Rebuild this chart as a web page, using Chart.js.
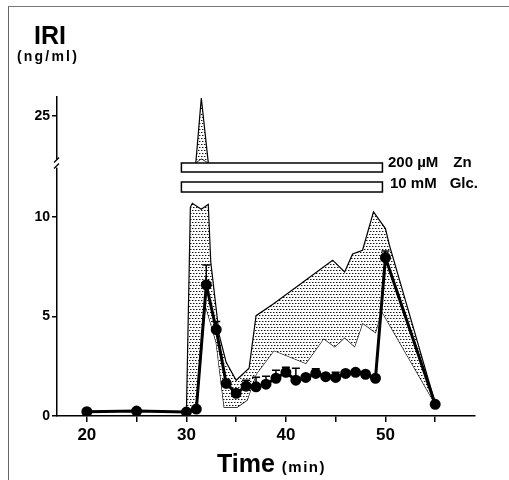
<!DOCTYPE html>
<html>
<head>
<meta charset="utf-8">
<script src="https://cdn.jsdelivr.net/npm/chart.js@4"></script>
<style>
  body { margin: 0; background: #fff; }
  #wrap { position: relative; width: 509px; height: 480px; font-family: "Liberation Sans", Arial, sans-serif; font-weight: bold; color: #000; }
  #frame { position: absolute; left: 8px; top: 6px; width: 520px; height: 500px; border-left: 1px solid #666; border-top: 1px solid #777; }
  .lbl { position: absolute; line-height: 1; white-space: nowrap; }
</style>
</head>
<body>
<div id="wrap">
  <div id="frame"></div>
  <canvas id="iriChart" width="509" height="480"></canvas>
  <div class="lbl" style="left:34px; top:23px; font-size:25px;">IRI</div>
  <div class="lbl" style="left:17px; top:49px; font-size:14px; letter-spacing:2.2px;">(ng/ml)</div>
  <div class="lbl" style="left:388px; top:154px; font-size:15px;">200 µM<span style="margin-left:15px">Zn</span></div>
  <div class="lbl" style="left:390px; top:175px; font-size:15px;">10 mM<span style="margin-left:13px">Glc.</span></div>
  <div class="lbl" style="left:217px; top:451px; font-size:25px;">Time <span style="font-size:15px; letter-spacing:1.5px;">(min)</span></div>
</div>
<script>
// mean IRI (ng/ml) with top of error bar
const meanTime = [20, 25, 30, 31, 32, 33, 34, 35, 36, 37, 38, 39, 40, 41, 42, 43, 44, 45, 46, 47, 48, 49, 50, 55];
const meanIRI  = [0.22, 0.25, 0.2, 0.35, 6.6, 4.35, 1.64, 1.14, 1.5, 1.47, 1.6, 1.9, 2.2, 1.8, 1.94, 2.14, 1.98, 1.94, 2.14, 2.2, 2.1, 1.9, 7.97, 0.59];
const meanErrTop = [null, null, null, null, 7.6, 4.75, null, null, 1.8, 1.95, 2.0, 2.3, 2.45, 2.4, null, 2.38, null, 2.2, null, null, null, null, 8.3, null];

// shaded range: upper edge
const upperTime = [30.0, 30.4, 30.6, 31.5, 32.2, 32.45, 33.3, 34.0, 35.0, 36.3, 37.0, 38.8, 44.7, 45.9, 46.7, 47.7, 48.8, 50.0, 50.4, 55.0];
const upperIRI  = [0.1, 10.5, 10.7, 10.4, 10.65, 7.75, 4.07, 2.7, 1.8, 2.4, 5.05, 5.66, 7.84, 7.25, 8.15, 8.34, 10.27, 9.43, 8.6, 0.65];
// shaded range: lower edge
const lowerTime = [30.0, 31.0, 31.9, 33.0, 33.8, 35.1, 36.1, 37.0, 38.8, 42.0, 43.8, 44.9, 45.9, 46.9, 47.7, 49.0, 49.6, 55.0];
const lowerIRI  = [0.1, 0.3, 5.6, 3.7, 0.45, 0.45, 0.8, 2.1, 3.3, 2.65, 3.9, 3.48, 3.95, 3.5, 4.68, 4.2, 5.3, 0.6];

// upper range peak (above axis break)
const spikeTime = [30.95, 31.5, 32.2];
const spikeTopIRI = [22.65, 25.9, 22.65];
const spikeBaseIRI = [22.65, 22.85, 22.65];

// perfusion periods (min)
const znPeriod  = [29.5, 49.7];
const glcPeriod = [29.5, 49.7];

const xTickValues = [20, 25, 30, 35, 40, 45, 50, 55];
const xTickLabels = [20, 30, 40, 50];
const yTickValues = [0, 5, 10];
const yUpperTicks = [25];

const pts = (xs, ys) => xs.map((x, i) => ({ x: x, y: ys[i] }));

const ctx = document.getElementById('iriChart').getContext('2d');

// stippled fill like the printed figure
function stipple() {
    const c = document.createElement('canvas');
    c.width = 6; c.height = 6;
    const g = c.getContext('2d');
    g.fillStyle = '#fff';
    g.fillRect(0, 0, 6, 6);
    [[0, 0], [3, 0], [1, 3], [4, 3]].forEach(([x, y]) => {
        g.fillStyle = '#111';
        g.fillRect(x, y, 1, 1);
        g.fillStyle = '#999';
        g.fillRect(x + 1, y, 1, 1);
    });
    return ctx.createPattern(c, 'repeat');
}
const dots = stipple();

const tickFont = { family: 'Liberation Sans', weight: 'bold', size: 14 };

// error bars, axis break and the Zn / Glc bars
const extras = {
    id: 'extras',
    afterDatasetsDraw(chart) {
        const c = chart.ctx, xs = chart.scales.x, ys = chart.scales.y;
        c.save();
        c.strokeStyle = '#000';
        c.lineWidth = 1.5;
        meanErrTop.forEach((top, i) => {
            if (top == null) return;
            const px = xs.getPixelForValue(meanTime[i]);
            const y0 = ys.getPixelForValue(meanIRI[i]);
            const y1 = ys.getPixelForValue(top);
            c.beginPath();
            c.moveTo(px, y0); c.lineTo(px, y1);
            c.moveTo(px - 4, y1); c.lineTo(px + 4, y1);
            c.stroke();
        });
        // treatment bars
        [[znPeriod, 163, 9], [glcPeriod, 182, 10]].forEach(([p, top, h]) => {
            const a = xs.getPixelForValue(p[0]), b = xs.getPixelForValue(p[1]);
            c.fillStyle = '#fff';
            c.fillRect(a, top, b - a, h);
            c.strokeRect(a, top, b - a, h);
        });
        // axis break
        const bx = chart.chartArea.left, by = ys.top;
        c.fillStyle = '#fff';
        c.fillRect(bx - 3, by - 4, 6, 8);
        c.lineWidth = 1.3;
        c.beginPath();
        c.moveTo(bx - 3, by - 1); c.lineTo(bx + 2, by - 6);
        c.moveTo(bx - 3, by + 5); c.lineTo(bx + 2, by);
        c.stroke();
        c.restore();
    }
};

const iriChart = new Chart(ctx, {
    type: 'line',
    data: {
        datasets: [
            {
                label: 'mean',
                data: pts(meanTime, meanIRI),
                yAxisID: 'y',
                borderColor: '#000',
                borderWidth: 3,
                pointRadius: 4,
                pointBackgroundColor: '#000',
                pointBorderColor: '#000',
                fill: false,
                tension: 0
            },
            {
                label: 'upper',
                data: pts(upperTime, upperIRI),
                yAxisID: 'y',
                borderColor: '#000',
                borderWidth: 1.2,
                pointRadius: 0,
                backgroundColor: dots,
                fill: 2,
                tension: 0
            },
            {
                label: 'lower',
                data: pts(lowerTime, lowerIRI),
                yAxisID: 'y',
                borderColor: '#000',
                borderWidth: 1.2,
                pointRadius: 0,
                fill: false,
                tension: 0
            },
            {
                label: 'spike',
                data: pts(spikeTime, spikeTopIRI),
                yAxisID: 'y2',
                borderColor: '#000',
                borderWidth: 1.2,
                pointRadius: 0,
                backgroundColor: dots,
                fill: 4,
                tension: 0
            },
            {
                label: 'spikeBase',
                data: pts(spikeTime, spikeBaseIRI),
                yAxisID: 'y2',
                borderColor: '#000',
                borderWidth: 1.2,
                pointRadius: 0,
                fill: false,
                tension: 0
            }
        ]
    },
    options: {
        responsive: false,
        animation: false,
        events: [],
        layout: { padding: { left: 0, right: 34, top: 97, bottom: 0 } },
        plugins: { legend: { display: false }, tooltip: { enabled: false } },
        scales: {
            x: {
                type: 'linear',
                min: 17,
                max: 59,
                afterBuildTicks: s => { s.ticks = xTickValues.map(v => ({ value: v })); },
                afterFit: s => { s.height = 64; },
                ticks: {
                    autoSkip: false,
                    maxRotation: 0,
                    padding: 3,
                    color: '#000',
                    font: { family: 'Liberation Sans', weight: 'bold', size: 17 },
                    callback: v => xTickLabels.includes(v) ? String(v) : ''
                },
                grid: { drawOnChartArea: false, drawTicks: true, tickLength: 6, color: '#000', lineWidth: 1.5 },
                border: { color: '#000', width: 1.5 }
            },
            y: {
                type: 'linear',
                stack: 'iri',
                stackWeight: 12.7,
                min: 0,
                max: 12.7,
                afterBuildTicks: s => { s.ticks = yTickValues.map(v => ({ value: v })); },
                afterFit: s => { s.width = 57; },
                ticks: { color: '#000', font: tickFont, padding: 2 },
                grid: { drawOnChartArea: false, drawTicks: true, tickLength: 5, color: '#000', lineWidth: 1.5 },
                border: { color: '#000', width: 1.5 }
            },
            y2: {
                type: 'linear',
                position: 'left',
                stack: 'iri',
                stackWeight: 3.35,
                min: 22.6,
                max: 25.95,
                afterBuildTicks: s => { s.ticks = yUpperTicks.map(v => ({ value: v })); },
                afterFit: s => { s.width = 57; },
                ticks: { color: '#000', font: tickFont, padding: 2 },
                grid: { drawOnChartArea: false, drawTicks: true, tickLength: 5, color: '#000', lineWidth: 1.5 },
                border: { color: '#000', width: 1.5 }
            }
        }
    },
    plugins: [extras]
});
</script>
</body>
</html>
